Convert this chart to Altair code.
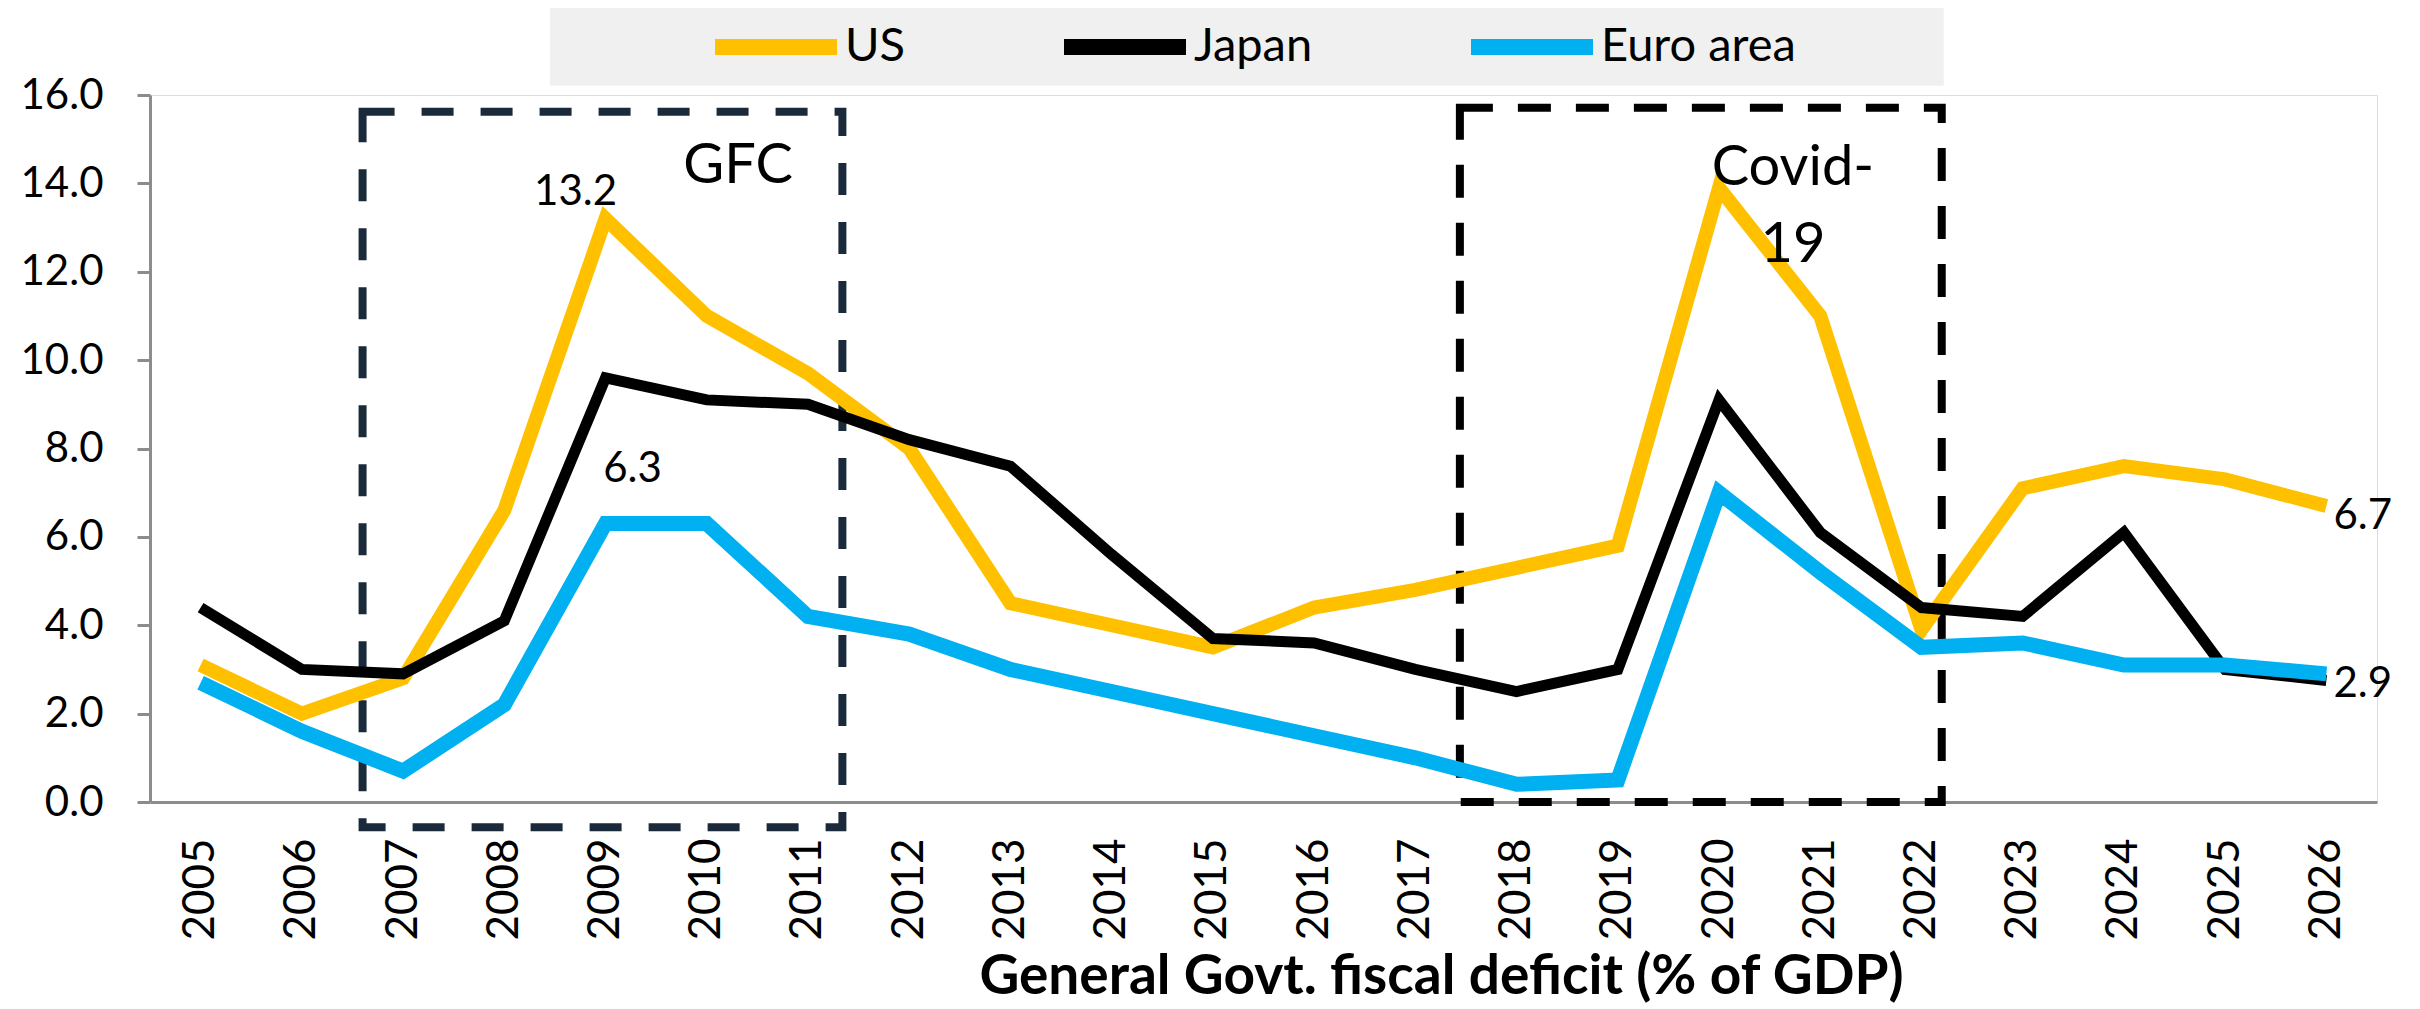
import altair as alt
import pandas as pd

# ---- data ----
years = [2005, 2006, 2007, 2008, 2009, 2010, 2011, 2012, 2013, 2014, 2015,
         2016, 2017, 2018, 2019, 2020, 2021, 2022, 2023, 2024, 2025, 2026]
us = [3.1, 2.0, 2.8, 6.6, 13.2, 11.0, 9.7, 8.0, 4.5, 4.0, 3.5,
      4.4, 4.8, 5.3, 5.8, 13.9, 11.0, 3.9, 7.1, 7.6, 7.3, 6.7]
japan = [4.4, 3.0, 2.9, 4.1, 9.6, 9.1, 9.0, 8.2, 7.6, 5.6, 3.7,
         3.6, 3.0, 2.5, 3.0, 9.1, 6.1, 4.4, 4.2, 6.1, 3.0, 2.75]
euro = [2.7, 1.6, 0.7, 2.2, 6.3, 6.3, 4.2, 3.8, 3.0, 2.5, 2.0,
        1.5, 1.0, 0.4, 0.5, 7.0, 5.2, 3.5, 3.6, 3.1, 3.1, 2.9]
series_names = ["US", "Japan", "Euro area"]
series_colors = ["#FFC000", "#000000", "#00B0F0"]

# data labels
peak_label = ["13.2"]; peak_year = [2009]; peak_value = [13.2]
euro_label = ["6.3"]; euro_year = [2009]; euro_value = [6.3]
end_label = ["6.7", "2.9"]; end_year = [2026, 2026]; end_value = [6.7, 2.9]

# annotation boxes (data coordinates)
box_names = ["GFC", "Covid-19"]
box_x1 = [2006.6, 2017.44]
box_x2 = [2011.34, 2022.2]
box_y1 = [-0.57, 0.0]
box_y2 = [15.62, 15.71]
box_text = ["GFC", "Covid-\n19"]
box_text_x = [2010.31, 2020.73]
box_text_y = [14.01, 13.97]

title_text = "General Govt. fiscal deficit (% of GDP)"

# ---- tables ----
rows = []
for name, vals in zip(series_names, [us, japan, euro]):
    for y, v in zip(years, vals):
        rows.append({"year": y, "value": v, "series": name})
df = pd.DataFrame(rows)

FONT = "Lato"
W, H = 2227, 707
xscale = alt.Scale(domain=[2004.5, 2026.5], nice=False, zero=False)
yscale = alt.Scale(domain=[0, 16], nice=False)

color = alt.Color(
    "series:N",
    scale=alt.Scale(domain=series_names, range=series_colors),
    legend=alt.Legend(
        title=None, orient="none", legendX=557, legendY=-117,
        direction="horizontal", symbolType="stroke", symbolSize=14884,
        symbolStrokeWidth=16, labelFont=FONT, labelFontSize=47,
        labelColor="#000000", labelOffset=0, columnPadding=126, padding=0,
        labelLimit=400,
    ),
)

x_enc = alt.X(
    "year:Q", scale=xscale,
    axis=alt.Axis(
        values=years, format="d", labelAngle=-90, labelAlign="right",
        labelBaseline="middle", labelPadding=36, labelFont=FONT,
        labelFontSize=44, labelColor="#000000", ticks=False, grid=False,
        domainColor="#8c8c8c", domainWidth=3, title=title_text,
        titleFont=FONT, titleFontSize=55, titleFontWeight="bold",
        titleColor="#000000", titleX=1291, titleY=191,
        titleAlign="center", titleBaseline="alphabetic", labelFlush=False,
    ),
)
y_enc = alt.Y(
    "value:Q", scale=yscale,
    axis=alt.Axis(
        values=[0, 2, 4, 6, 8, 10, 12, 14, 16], format=".1f",
        labelFont=FONT, labelFontSize=42, labelColor="#000000",
        labelPadding=34, tickSize=13, tickColor="#8c8c8c", tickWidth=3,
        domainColor="#8c8c8c", domainWidth=3, grid=False, title=None,
    ),
)

base = alt.Chart(df)
widths = {"US": 14, "Japan": 11, "Euro area": 15}
lines = [
    base.transform_filter(alt.datum.series == n)
    .mark_line(strokeWidth=widths[n])
    .encode(x=x_enc, y=y_enc, color=color)
    for n in series_names
]

# legend background band
legend_bg = pd.DataFrame({"x1": [2008.45], "x2": [2022.22], "y1": [16.21], "y2": [18.04]})
bg = alt.Chart(legend_bg).mark_rect(fill="#f0f0f0").encode(
    x=alt.X("x1:Q", scale=xscale), x2="x2:Q",
    y=alt.Y("y1:Q", scale=yscale), y2="y2:Q",
)

boxes_df = pd.DataFrame({"name": box_names, "x1": box_x1, "x2": box_x2,
                         "y1": box_y1, "y2": box_y2})
gfc_box = alt.Chart(boxes_df).transform_filter(alt.datum.name == "GFC").mark_rect(
    fill="transparent", stroke="#1b2a3a", strokeWidth=8, strokeDash=[32, 27]
).encode(x=alt.X("x1:Q", scale=xscale), x2="x2:Q",
         y=alt.Y("y1:Q", scale=yscale), y2="y2:Q")
covid_box = alt.Chart(boxes_df).transform_filter(alt.datum.name == "Covid-19").mark_rect(
    fill="transparent", stroke="#000000", strokeWidth=8, strokeDash=[33, 25]
).encode(x=alt.X("x1:Q", scale=xscale), x2="x2:Q",
         y=alt.Y("y1:Q", scale=yscale), y2="y2:Q")

box_txt_df = pd.DataFrame({"t": box_text, "x": box_text_x, "y": box_text_y})
box_txt = alt.Chart(box_txt_df).mark_text(
    font=FONT, fontSize=56, color="#000000", align="center",
    baseline="alphabetic", lineBreak="\n", lineHeight=77,
).encode(x=alt.X("x:Q", scale=xscale), y=alt.Y("y:Q", scale=yscale), text="t:N")

peak_df = pd.DataFrame({"t": peak_label, "x": peak_year, "y": peak_value})
peak_txt = alt.Chart(peak_df).mark_text(
    font=FONT, fontSize=42, color="#000000", align="center",
    baseline="alphabetic", dx=-30, dy=-14,
).encode(x=alt.X("x:Q", scale=xscale), y=alt.Y("y:Q", scale=yscale), text="t:N")

euro_df = pd.DataFrame({"t": euro_label, "x": euro_year, "y": euro_value})
euro_txt = alt.Chart(euro_df).mark_text(
    font=FONT, fontSize=42, color="#000000", align="center",
    baseline="alphabetic", dx=27, dy=-42,
).encode(x=alt.X("x:Q", scale=xscale), y=alt.Y("y:Q", scale=yscale), text="t:N")

end_df = pd.DataFrame({"t": end_label, "x": end_year, "y": end_value})
end_txt = alt.Chart(end_df).mark_text(
    font=FONT, fontSize=42, color="#000000", align="left",
    baseline="middle", dx=7, dy=10,
).encode(x=alt.X("x:Q", scale=xscale), y=alt.Y("y:Q", scale=yscale), text="t:N")

chart = alt.layer(
    bg, gfc_box, covid_box, *lines, box_txt, peak_txt, euro_txt, end_txt
).properties(
    width=W, height=H,
    autosize=alt.AutoSizeParams(type="none"),
    padding={"left": 142, "top": 87, "right": 35, "bottom": 206},
).configure_view(stroke=None).configure(background="#ffffff")

chart.save("out.html", embed_options={"renderer": "svg", "actions": False})
